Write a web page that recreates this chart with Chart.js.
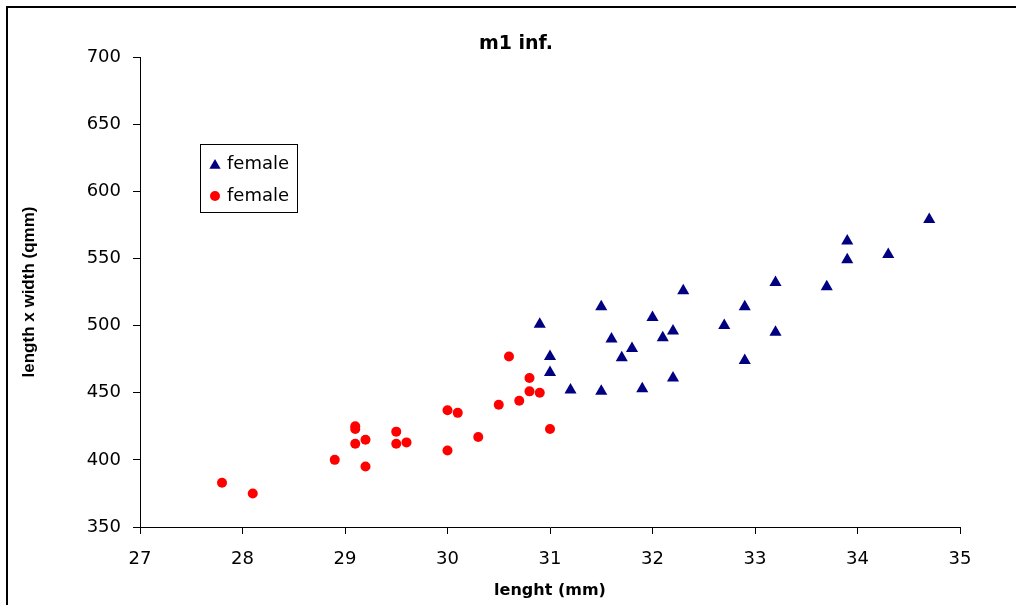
<!DOCTYPE html>
<html>
<head>
<meta charset="utf-8">
<title>m1 inf.</title>
<script src="https://cdn.jsdelivr.net/npm/chart.js@4.4.1/dist/chart.umd.min.js"></script>
<style>
  html, body { margin: 0; padding: 0; background: #fff; }
  #wrap { width: 1016px; height: 605px; }
</style>
</head>
<body>
<div id="wrap"><canvas id="chart" width="1016" height="605"></canvas></div>
<script>
// lengths (mm) and length x width (qmm), two groups
const triLength = [30.9, 31.0, 31.0, 31.2, 31.5, 31.5, 31.6, 31.7, 31.8, 31.9, 32.0, 32.1, 32.2,
  32.2, 32.3, 32.7, 32.9, 32.9, 33.2, 33.2, 33.7, 33.9, 33.9, 34.3, 34.7];
const triArea = [501, 477, 465, 452, 514, 451, 490, 476, 483, 453, 506, 491, 496,
  461, 526, 500, 514, 474, 532, 495, 529, 563, 549, 553, 579];

const dotLength = [27.8, 28.1, 28.9, 29.1, 29.1, 29.1, 29.2, 29.2, 29.5, 29.5, 29.6, 30.0,
  30.1, 30.0, 30.3, 30.5, 30.6, 30.7, 30.8, 30.8, 30.9, 31.0];
const dotArea = [383, 375, 400, 425, 423, 412, 415, 395, 421, 412, 413, 437,
  435, 407, 417, 441, 477, 444, 461, 451, 450, 423];

const seriesLabels = ['female', 'female'];
const chartTitle = 'm1 inf.';
const xTitle = 'lenght (mm)';
const yTitle = 'length x width (qmm)';

const toPoints = (xs, ys) => xs.map((x, i) => ({ x, y: ys[i] }));

const FONT = "'DejaVu Sans', sans-serif";

// white page with the frame line on the top and left
const frame = {
  id: 'frame',
  beforeDraw(chart) {
    const ctx = chart.ctx;
    ctx.save();
    ctx.fillStyle = '#fff';
    ctx.fillRect(0, 0, chart.width, chart.height);
    ctx.restore();
  },
  afterDraw(chart) {
    const ctx = chart.ctx;
    ctx.save();
    ctx.strokeStyle = '#000';
    ctx.lineWidth = 2;
    ctx.strokeRect(7, 7, chart.width + 20, chart.height + 20);
    ctx.restore();
  }
};

// boxed legend sitting inside the plot
const boxLegend = {
  id: 'boxLegend',
  afterDraw(chart) {
    const ctx = chart.ctx;
    const x0 = 200, y0 = 144, w = 97, h = 68;
    ctx.save();
    ctx.fillStyle = '#fff';
    ctx.fillRect(x0, y0, w, h);
    ctx.strokeStyle = '#000';
    ctx.lineWidth = 1;
    ctx.strokeRect(x0 + 0.5, y0 + 0.5, w, h);
    ctx.font = '18px ' + FONT;
    ctx.textBaseline = 'middle';
    chart.data.datasets.forEach((ds, i) => {
      const cy = y0 + 20 + i * 32;
      ctx.fillStyle = ds.backgroundColor;
      ctx.strokeStyle = ds.borderColor;
      Chart.helpers.drawPoint(ctx, {
        pointStyle: ds.pointStyle,
        radius: ds.pointStyle === 'triangle' ? 6.5 : 5,
        rotation: 0,
        borderWidth: 0
      }, x0 + 15, cy + (ds.pointStyle === 'triangle' ? 1.5 : 0));
      ctx.fillStyle = '#000';
      ctx.fillText(ds.label, x0 + 27, cy);
    });
    ctx.restore();
  }
};

new Chart(document.getElementById('chart'), {
  type: 'scatter',
  data: {
    datasets: [
      {
        label: seriesLabels[0],
        data: toPoints(triLength, triArea),
        pointStyle: 'triangle',
        pointRadius: 7,
        pointBorderWidth: 0,
        backgroundColor: '#000080',
        borderColor: '#000080'
      },
      {
        label: seriesLabels[1],
        data: toPoints(dotLength, dotArea),
        pointStyle: 'circle',
        pointRadius: 5,
        pointBorderWidth: 0,
        backgroundColor: '#ff0000',
        borderColor: '#ff0000'
      }
    ]
  },
  options: {
    responsive: false,
    animation: false,
    layout: { padding: { left: 72, right: 56, top: 0, bottom: 0 } },
    plugins: {
      legend: { display: false },
      tooltip: { enabled: false },
      title: {
        display: true,
        text: chartTitle,
        color: '#000',
        font: { family: FONT, size: 19, weight: 'bold' },
        padding: { top: 33, bottom: 1.2 }
      }
    },
    scales: {
      x: {
        type: 'linear',
        min: 27,
        max: 35,
        afterFit: s => { s.height = 78; },
        border: { display: true, color: '#000', width: 1 },
        grid: { drawOnChartArea: false, tickLength: 7, color: '#000' },
        ticks: { stepSize: 1, color: '#000', padding: 15, font: { family: FONT, size: 18 } },
        title: {
          display: true,
          text: xTitle,
          color: '#000',
          font: { family: FONT, size: 16, weight: 'bold' },
          padding: { top: 0, bottom: 5 }
        }
      },
      y: {
        type: 'linear',
        min: 350,
        max: 700,
        afterFit: s => { s.width = 68; },
        border: { display: true, color: '#000', width: 1 },
        grid: { drawOnChartArea: false, tickLength: 7, color: '#000' },
        ticks: { stepSize: 50, color: '#000', padding: 12, font: { family: FONT, size: 18 } },
        title: {
          display: true,
          text: yTitle,
          color: '#000',
          font: { family: "'Liberation Sans', Arial, sans-serif", size: 17, weight: 'bold' },
          padding: { top: -53, bottom: 0 }
        }
      }
    }
  },
  plugins: [frame, boxLegend]
});
</script>
</body>
</html>
